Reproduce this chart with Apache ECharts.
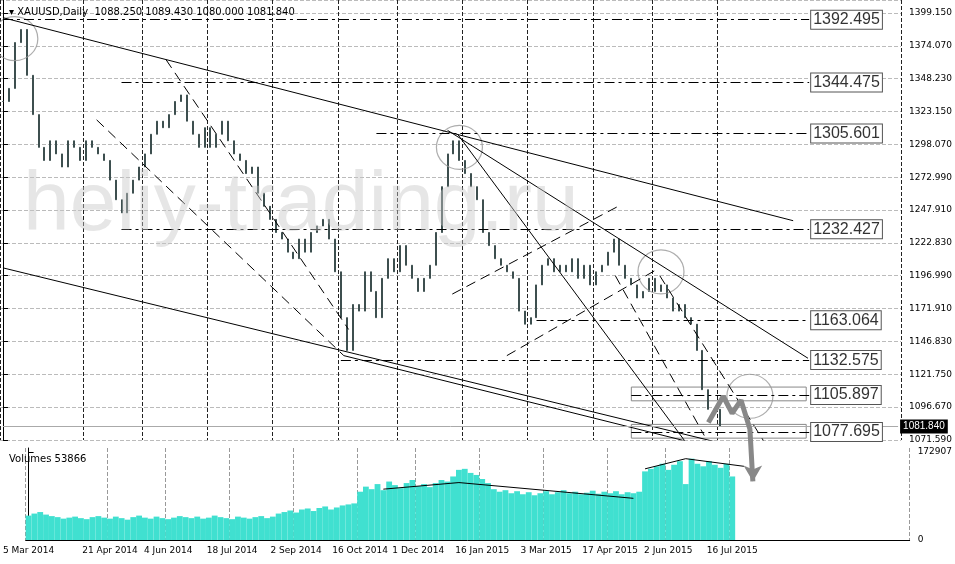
<!DOCTYPE html>
<html><head><meta charset="utf-8">
<script src="https://cdn.jsdelivr.net/npm/echarts@6/dist/echarts.min.js"></script>
<style>html,body{margin:0;padding:0;background:#fff}#c{width:955px;height:564px}</style>
</head><body><div id="c"></div>
<script>
// closes, one bar per ~3 trading days
const closes=[1330,1340,1375,1385,1350,1320,1295,1285,1300,1290,1280,1300,1295,1285,1300,1295,1290,1285,1270,1255,1245,1260,1270,1280,1290,1305,1315,1310,1320,1330,1335,1315,1305,1295,1310,1295,1305,1315,1300,1290,1285,1275,1280,1260,1250,1240,1230,1225,1215,1210,1225,1215,1230,1235,1240,1225,1200,1165,1140,1175,1170,1200,1185,1165,1195,1210,1200,1220,1205,1195,1185,1195,1205,1230,1265,1290,1300,1285,1275,1265,1255,1230,1220,1210,1205,1200,1195,1170,1160,1165,1190,1205,1210,1200,1205,1200,1210,1195,1205,1190,1200,1205,1215,1225,1205,1195,1190,1180,1185,1195,1185,1190,1180,1170,1175,1165,1160,1140,1110,1095,1095,1082];
const volumes=[48000,52000,55000,50000,47000,45000,42000,44000,46000,43000,41000,45000,47000,44000,42000,46000,43000,40000,45000,48000,44000,42000,46000,43000,41000,44000,47000,45000,43000,46000,42000,44000,48000,45000,43000,41000,46000,44000,42000,45000,47000,43000,46000,52000,55000,58000,54000,60000,62000,57000,63000,66000,60000,64000,68000,70000,72000,95000,105000,100000,110000,98000,115000,108000,102000,112000,118000,106000,110000,104000,112000,118000,115000,125000,138000,140000,132000,128000,120000,112000,100000,95000,98000,92000,96000,90000,94000,88000,92000,96000,90000,94000,98000,92000,95000,90000,93000,97000,91000,95000,92000,96000,90000,94000,92000,95000,135000,140000,145000,150000,138000,148000,155000,110000,160000,150000,145000,155000,148000,142000,150000,125000];
const dateLabels=['5 Mar 2014','21 Apr 2014','4 Jun 2014','18 Jul 2014','2 Sep 2014','16 Oct 2014','1 Dec 2014','16 Jan 2015','3 Mar 2015','17 Apr 2015','2 Jun 2015','16 Jul 2015'];
const dateIdx=[0,14,24,35,46,57,67,78,89,100,110,121];
const priceTicks=[1071.59,1096.67,1121.75,1146.83,1171.91,1196.99,1222.83,1247.91,1272.99,1298.07,1323.15,1348.23,1374.07,1399.15];
const volTicks=[0,172907];
const levels=[[1392.495,0],[1344.475,20],[1305.601,63],[1232.427,20],[1163.064,90],[1132.575,57],[1105.897,106],[1077.695,106]];
const trendLines=[[0,1394,133.3,1239,'solid'],[0,1203,124,1066,'solid'],[75,1308,135.8,1134,'solid'],[76.7,1305,115,1071,'solid'],[57.5,1136,115,1071,'solid'],[27.5,1362,58.3,1156,'dashed'],[15.8,1316,57.5,1136,'dashed'],[75.8,1183,104.2,1251,'dashed'],[85,1136,110,1201,'dashed'],[103.3,1197,118.3,1075,'dashed'],[110.8,1197,128.3,1071,'dashed']];
const circles=[[2,1378],[77,1295],[111,1200],[126,1105]];
const arrowPath=[[119,1085],[121.5,1105],[123,1092],[124.5,1102],[126,1080],[126.5,1040]];
const volTrend=[[61,1e5],[74,113000],[104,82000]];
const volTrend2=[[106,140000],[113,160000],[123,145000]];
const N=152;
const cats=[];for(let i=0;i<N;i++){const k=dateIdx.indexOf(i);cats.push(k>=0?dateLabels[k]:'');}
const ohlc=closes.map((c,i)=>{const o=i?closes[i-1]:c;return [o,c,Math.min(o,c),Math.max(o,c)];});
const ch=echarts.init(document.getElementById('c'));
const showIdx=(i)=>dateIdx.indexOf(i)>=0;
const step=25.08;
ch.setOption({animation:false,
title:[{text:'▾ XAUUSD,Daily  1088.250 1089.430 1080.000 1081.840',left:4,top:2,textStyle:{fontSize:10,fontWeight:'normal',color:'#000',fontFamily:'DejaVu Sans'}},
{text:'heliy-trading.ru',left:18,top:160,textStyle:{fontSize:84,fontWeight:'normal',color:'rgba(200,200,200,0.45)',fontFamily:'Liberation Sans'}},
{text:'Volumes 53866',left:4,top:449,textStyle:{fontSize:10,fontWeight:'normal',color:'#000',fontFamily:'DejaVu Sans'}}],
grid:[{left:0,right:45,top:0,height:440},{left:0,right:45,top:448,height:92}],
xAxis:[{type:'category',data:cats,gridIndex:0,axisLabel:{show:false},axisTick:{show:false},axisLine:{show:false},splitLine:{show:true,interval:(i)=>showIdx(i),lineStyle:{type:'dashed',color:'#222'}}},
{type:'value',gridIndex:0,min:-0.5,max:N-0.5,show:false},
{type:'category',data:cats,gridIndex:1,axisLine:{lineStyle:{color:'#000'}},axisTick:{show:false},axisLabel:{interval:(i)=>showIdx(i),fontSize:9,color:'#000',fontFamily:'DejaVu Sans',margin:6},splitLine:{show:true,interval:(i)=>showIdx(i),lineStyle:{type:'dashed',color:'#999'}}},
{type:'value',gridIndex:1,min:-0.5,max:N-0.5,show:false}],
yAxis:[{type:'value',gridIndex:0,position:'right',min:priceTicks[0],max:1407.5,interval:step,axisLabel:{showMaxLabel:false,formatter:v=>{const k=Math.round((v-priceTicks[0])/step);return (priceTicks[k]!==undefined?priceTicks[k]:v).toFixed(3);},fontSize:9,color:'#000',fontFamily:'DejaVu Sans'},axisLine:{show:true,lineStyle:{color:'#000'}},axisTick:{show:true},splitLine:{lineStyle:{type:'dashed',color:'#bbb'}}},
{type:'value',gridIndex:1,position:'right',min:0,max:181000,interval:volTicks[1],axisLabel:{showMaxLabel:false,formatter:v=>String(v),fontSize:9,color:'#000',fontFamily:'DejaVu Sans'},axisLine:{show:true,lineStyle:{color:'#000'}},splitLine:{show:false}}],
series:[
{type:'candlestick',xAxisIndex:0,yAxisIndex:0,data:ohlc,barMaxWidth:1.5,itemStyle:{color:'#3d4f4f',color0:'#3d4f4f',borderColor:'#3d4f4f',borderColor0:'#3d4f4f'},
 markLine:{symbol:'none',silent:true,data:levels.map(l=>[{xAxis:l[1],yAxis:l[0]},{xAxis:136,yAxis:l[0],label:{show:true,position:'end',formatter:l[0].toFixed(3),fontSize:16,color:'#333',backgroundColor:'#fff',borderColor:'#555',borderWidth:1,padding:[1,2],distance:2}}]).concat([[{xAxis:0,yAxis:1081.84},{xAxis:N-1,yAxis:1081.84,label:{show:true,position:'end',formatter:'1081.840',fontSize:10,color:'#fff',backgroundColor:'#000',padding:[2,3],distance:2},lineStyle:{type:'solid',color:'#aaa'}}]]),lineStyle:{type:[10,4,3,4],color:'#000',width:1},label:{show:false}}},
...trendLines.map(t=>({type:'line',xAxisIndex:1,yAxisIndex:0,data:[[t[0],t[1]],[t[2],t[3]]],symbol:'none',lineStyle:{color:'#000',width:1,type:t[4]==='dashed'?[10,6]:'solid'},silent:true})),
{type:'scatter',xAxisIndex:1,yAxisIndex:0,data:circles,symbol:'circle',symbolSize:[46,44],itemStyle:{color:'rgba(0,0,0,0)',borderColor:'#999',borderWidth:1.2}},
{type:'line',xAxisIndex:1,yAxisIndex:0,clip:false,z:10,data:arrowPath,showAllSymbol:true,symbol:(v,p)=>p.dataIndex===arrowPath.length-1?'arrow':'none',symbolRotate:180,symbolSize:[14,16],lineStyle:{color:'#888',width:5},itemStyle:{color:'#888'},
 markArea:{silent:true,itemStyle:{color:'rgba(0,0,0,0)',borderColor:'#888',borderWidth:1},data:[[{xAxis:106,yAxis:1101.5},{xAxis:135.5,yAxis:1112}],[{xAxis:106,yAxis:1073},{xAxis:135.5,yAxis:1083.5}]]}},
{type:'bar',xAxisIndex:2,yAxisIndex:1,data:volumes,barCategoryGap:'0%',itemStyle:{color:'#40e0d0'}},
...[volTrend,volTrend2].map(d=>({type:'line',xAxisIndex:3,yAxisIndex:1,data:d,symbol:'none',lineStyle:{color:'#000',width:1}}))
]});
</script></body></html>
